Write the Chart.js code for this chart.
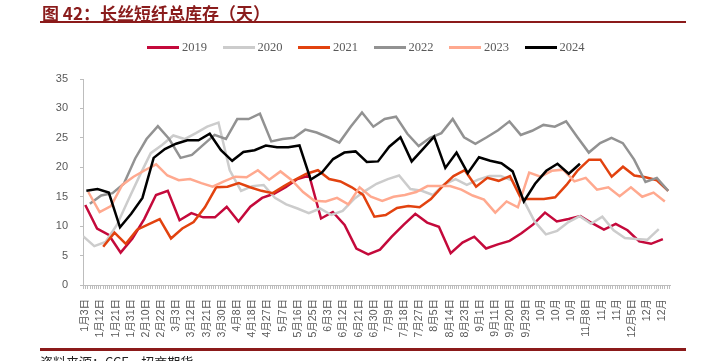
<!DOCTYPE html>
<html>
<head>
<meta charset="utf-8">
<title>长丝短纤总库存</title>
<script src="https://cdn.jsdelivr.net/npm/chart.js@4.4.1/dist/chart.umd.min.js"></script>
<style>
  html, body { margin: 0; padding: 0; background: #fff; }
  #wrap { position: relative; width: 717px; height: 361px; overflow: hidden; }
  #chart { position: absolute; left: 0; top: 0; }
  .title { position: absolute; left: 42px; top: 0px; font: bold 17px "Noto Sans CJK SC", sans-serif; color: #8a1c1c; white-space: nowrap; }
  .rule { position: absolute; left: 40px; width: 646px; background: #8b1a1a; }
  .legend { position: absolute; left: 147px; top: 40px; display: flex; }
  .legend .item { width: 75.5px; display: flex; align-items: center; }
  .legend .swatch { width: 32px; height: 3px; margin-right: 3px; }
  .legend span { font: 12.5px "Liberation Serif", serif; color: #595959; }
  .source { position: absolute; left: 40px; top: 352px; font: 13px "Noto Sans CJK SC", sans-serif; color: #222; white-space: nowrap; }
</style>
</head>
<body>
<div id="wrap">
  <canvas id="chart" width="717" height="361"></canvas>
  <div class="title">图 42：长丝短纤总库存（天）</div>
  <div class="rule" style="top:21px;height:2px"></div>
  <div class="legend" id="legend"></div>
  <div class="rule" style="top:348px;height:3px"></div>
  <div class="source">资料来源：CCF，招商期货</div>
</div>
<script>
// x axis tick labels (one slot each)
const xLabels = ['1月3日','1月12日','1月21日','1月31日','2月10日','2月22日','3月3日','3月12日','3月21日','3月30日',
  '4月8日','4月18日','4月27日','5月7日','5月16日','5月25日','6月3日','6月12日','6月21日','6月30日',
  '7月9日','7月18日','7月27日','8月5日','8月14日','8月23日','9月1日','9月11日','9月20日','9月29日',
  '10月','10月','10月','11月8日','11月','11月','12月5日','12月','12月'];

const years = ['2019', '2020', '2021', '2022', '2023', '2024'];
const colors = ['#c4093b', '#cccccc', '#e2420f', '#929292', '#ffa98f', '#000000'];

// weekly inventory days per year
const v2019 = [13.6, 9.6, 8.5, 5.5, 7.9, 11.2, 15.3, 16.0, 11.0, 12.2, 11.5, 11.5, 13.3, 10.8, 13.3, 14.8, 15.5, 16.6, 18.0, 18.6,
  11.3, 12.4, 10.2, 6.2, 5.2, 6.0, 8.2, 10.2, 12.1, 10.6, 9.9, 5.4, 7.2, 8.2, 6.2, 6.9, 7.5, 8.8, 10.3, 12.3,
  10.8, 11.2, 11.7, 10.5, 9.4, 10.4, 9.3, 7.4, 7.0, 7.8];
const v2020 = [8.3, 6.6, 7.3, 10.2, 14.4, 18.5, 22.4, 23.8, 25.4, 24.8, 25.8, 26.9, 27.6, 19.5, 16.0, 16.8, 17.0, 14.8, 13.7, 13.0,
  12.2, 13.0, 11.9, 12.6, 14.6, 16.0, 17.2, 18.0, 18.6, 16.3, 16.0, 15.3, 17.1, 18.0, 17.0, 17.9, 18.5, 18.5, 17.8, 14.5,
  10.8, 8.6, 9.2, 10.7, 11.7, 10.4, 11.6, 9.3, 8.0, 7.8, 7.7, 9.5];
const v2021 = [6.5, 8.9, 7.0, 9.4, 10.3, 11.2, 7.9, 9.6, 10.7, 13.2, 16.6, 16.7, 17.3, 16.6, 16.0, 15.6, 16.8, 17.9, 18.9, 19.5,
  18.0, 17.6, 16.6, 15.3, 11.6, 11.9, 13.1, 13.4, 13.2, 14.6, 16.7, 18.5, 19.5, 16.7, 18.2, 17.7, 18.5, 14.6, 14.6, 14.6,
  14.9, 17.0, 19.5, 21.3, 21.3, 18.4, 20.1, 18.6, 18.3, 17.8, 16.0];
const v2022 = [13.8, 15.2, 15.6, 17.2, 21.5, 24.8, 27.0, 24.8, 21.6, 22.1, 23.8, 25.5, 24.8, 28.2, 28.2, 29.1, 24.4, 24.8, 25.0, 26.4,
  25.9, 25.1, 24.2, 26.9, 29.3, 26.9, 28.2, 28.6, 25.7, 23.6, 25.0, 25.8, 28.2, 25.1, 24.0, 25.1, 26.3, 27.8, 25.5, 26.2,
  27.2, 26.9, 27.8, 25.1, 22.5, 24.1, 25.0, 24.1, 21.3, 17.5, 18.2, 16.0];
const v2023 = [15.8, 12.4, 13.4, 17.0, 18.4, 19.5, 20.5, 18.6, 17.8, 18.0, 17.3, 16.7, 17.6, 18.4, 18.3, 19.5, 17.9, 19.3, 17.8, 15.8,
  14.3, 14.2, 14.8, 13.7, 16.6, 15.0, 14.3, 15.0, 15.3, 15.8, 16.8, 16.8, 16.8, 16.2, 15.2, 14.5, 12.3, 14.2, 13.2, 19.1,
  18.4, 19.4, 19.6, 17.6, 18.2, 16.2, 16.6, 15.1, 16.6, 15.0, 15.7, 14.2];
const v2024 = [16.0, 16.3, 15.7, 9.8, 12.1, 14.8, 21.6, 23.1, 24.0, 24.6, 24.6, 25.7, 22.9, 21.1, 22.6, 22.9, 23.7, 23.4, 23.4, 23.7,
  17.9, 19.1, 21.4, 22.5, 22.7, 20.9, 21.0, 23.5, 25.1, 21.0, 23.1, 25.2, 19.9, 22.5, 19.0, 21.7, 21.1, 20.7, 19.3, 14.2,
  17.2, 19.4, 20.6, 18.9, 20.6];

// where each year's first and last week sit on the date axis (in label slots)
const yearFrom = [0, -0.15, 1.18, 0.3, 0.2, 0.07];
const yearTo = [38.03, 37.76, 38.38, 38.38, 38.16, 32.57];

const series = [v2019, v2020, v2021, v2022, v2023, v2024];

const datasets = series.map((vals, i) => ({
  label: years[i],
  data: vals.map((v, k) => ({ x: yearFrom[i] + k * (yearTo[i] - yearFrom[i]) / (vals.length - 1), y: v })),
  borderColor: colors[i],
  backgroundColor: colors[i],
  borderWidth: 2.5,
  pointRadius: 0,
  tension: 0,
  order: years.length - 1 - i
}));

// legend
const legend = document.getElementById('legend');
years.forEach((y, i) => {
  const item = document.createElement('div');
  item.className = 'item';
  item.innerHTML = '<div class="swatch" style="background:' + colors[i] + '"></div><span>' + y + '</span>';
  legend.appendChild(item);
});

// dense day ticks under the x axis
const dayTicks = {
  id: 'dayTicks',
  afterDraw(chart) {
    const s = chart.scales.x;
    const ctx = chart.ctx;
    ctx.save();
    ctx.strokeStyle = '#bdbdbd';
    ctx.lineWidth = 1;
    ctx.beginPath();
    for (let v = s.min; v <= s.max; v += 1 / 7) {
      const px = Math.round(s.getPixelForValue(v)) + 0.5;
      ctx.moveTo(px, s.top);
      ctx.lineTo(px, s.top + 4);
    }
    ctx.stroke();
    ctx.restore();
  }
};

Chart.defaults.font.family = '"Liberation Sans", "Noto Sans CJK SC", sans-serif';
Chart.defaults.color = '#595959';

new Chart(document.getElementById('chart'), {
  type: 'line',
  data: { datasets },
  options: {
    responsive: false,
    animation: false,
    devicePixelRatio: 1,
    layout: { padding: { top: 79, left: 20, right: 47, bottom: 0 } },
    plugins: { legend: { display: false }, tooltip: { enabled: false } },
    scales: {
      x: {
        type: 'linear',
        min: -0.15,
        max: 38.5,
        afterBuildTicks: (scale) => { scale.ticks = xLabels.map((_, i) => ({ value: i })); },
        afterFit: (scale) => { scale.height = 76; },
        ticks: {
          autoSkip: false,
          minRotation: 90,
          maxRotation: 90,
          padding: 6,
          font: { size: 10.5 },
          callback: (value, index) => xLabels[index]
        },
        grid: { display: false },
        border: { display: true, color: '#bdbdbd', width: 1 }
      },
      y: {
        min: 0,
        max: 35,
        afterFit: (scale) => { scale.width = 63; },
        ticks: { stepSize: 5, padding: 12, font: { size: 11 } },
        grid: { drawOnChartArea: false, drawTicks: true, tickLength: 3, color: '#bdbdbd' },
        border: { display: true, color: '#bdbdbd', width: 1 }
      }
    }
  },
  plugins: [dayTicks]
});
</script>
</body>
</html>
